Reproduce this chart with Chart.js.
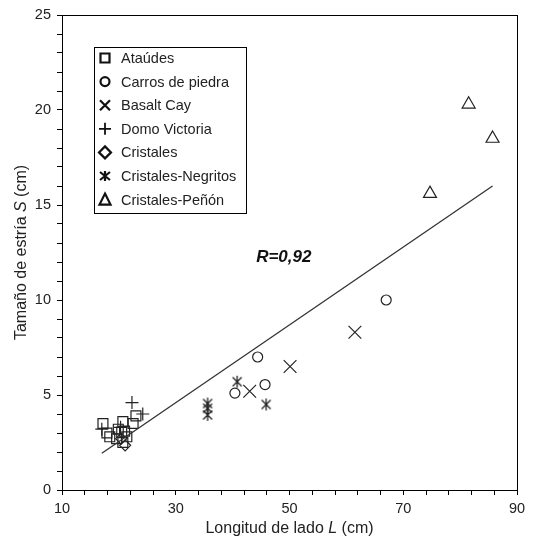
<!DOCTYPE html>
<html>
<head>
<meta charset="utf-8">
<script src="https://cdn.jsdelivr.net/npm/chart.js@4.4.1/dist/chart.umd.min.js"></script>
<style>
  html, body { margin: 0; padding: 0; background: #fff; }
  #wrap { width: 533px; height: 540px; }
</style>
</head>
<body>
<div id="wrap"><canvas id="c" width="533" height="540"></canvas></div>
<script>
// ---- Data ----
const seriesNames = ['Ataúdes', 'Carros de piedra', 'Basalt Cay', 'Domo Victoria', 'Cristales', 'Cristales-Negritos', 'Cristales-Peñón'];

const atades = [
  {x: 17.2, y: 3.5}, {x: 17.9, y: 3.0}, {x: 18.4, y: 2.8}, {x: 19.6, y: 2.7},
  {x: 20.5, y: 3.05}, {x: 20.7, y: 3.6}, {x: 20.7, y: 2.5}, {x: 21.4, y: 2.8},
  {x: 22.5, y: 3.5}, {x: 23.0, y: 3.9}, {x: 19.9, y: 3.2}, {x: 21.0, y: 3.1}
];
const carros = [ {x: 40.4, y: 5.1}, {x: 44.4, y: 7.0}, {x: 45.7, y: 5.55}, {x: 67.0, y: 10.0} ];
const basalt = [ {x: 43.0, y: 5.2}, {x: 50.1, y: 6.5}, {x: 61.5, y: 8.3} ];
const domo = [ {x: 22.3, y: 4.6}, {x: 24.2, y: 4.0}, {x: 17.0, y: 3.2}, {x: 20.3, y: 3.3} ];
const cristales = [ {x: 21.1, y: 2.35}, {x: 20.4, y: 2.7} ];
const negritos = [ {x: 35.6, y: 4.55}, {x: 35.6, y: 4.3}, {x: 35.6, y: 3.95}, {x: 40.8, y: 5.7}, {x: 45.9, y: 4.5} ];
const penon = [ {x: 81.5, y: 20.3}, {x: 85.7, y: 18.5}, {x: 74.7, y: 15.6} ];

const regression = [ {x: 17.0, y: 1.93}, {x: 85.7, y: 16.0} ];
const rLabel = 'R=0,92';
const rPos = {x: 49.0, y: 12.25};

const xTicks = {min: 10, max: 90, step: 4, labelEvery: 20};
const yTicks = {min: 0, max: 25, step: 1, labelEvery: 5};

// ---- Custom asterisk marker ----
function makeAsterisk(size, lw) {
  const c = document.createElement('canvas');
  c.width = size; c.height = size;
  const g = c.getContext('2d');
  g.strokeStyle = '#222'; g.lineWidth = lw; g.lineCap = 'butt';
  const m = size / 2, r = size / 2 - 1;
  const d = r * 0.75;
  g.beginPath();
  g.moveTo(m - d, m - d); g.lineTo(m + d, m + d);
  g.moveTo(m + d, m - d); g.lineTo(m - d, m + d);
  g.moveTo(m, m - r); g.lineTo(m, m + r);
  g.stroke();
  return c;
}
const asteriskImg = makeAsterisk(14, 1.3);

const ink = '#222';
function ds(label, data, style, radius) {
  return {
    type: 'scatter', label, data,
    pointStyle: style, pointRadius: radius, pointHoverRadius: radius,
    pointBorderColor: ink, pointBackgroundColor: 'rgba(0,0,0,0)',
    pointBorderWidth: 1.2, showLine: false
  };
}

const datasets = [
  {
    type: 'line', label: 'fit', data: regression,
    borderColor: '#333', borderWidth: 1.3, pointRadius: 0, fill: false, tension: 0
  },
  ds(seriesNames[0], atades, 'rect', 7),
  ds(seriesNames[1], carros, 'circle', 5),
  ds(seriesNames[2], basalt, 'crossRot', 9),
  ds(seriesNames[3], domo, 'cross', 6.5),
  ds(seriesNames[4], cristales, 'rectRot', 5.5),
  ds(seriesNames[5], negritos, asteriskImg, 7),
  ds(seriesNames[6], penon, 'triangle', 7.5)
];
const legendStyles = ['rect', 'circle', 'crossRot', 'cross', 'rectRot', 'asterisk', 'triangle'];

const FONT = '"Liberation Sans", Arial, sans-serif';

function drawSymbol(ctx, style, x, y) {
  ctx.save();
  ctx.strokeStyle = '#111';
  ctx.lineWidth = 2.2;
  ctx.beginPath();
  const s = 5;
  switch (style) {
    case 'rect': ctx.rect(x - s + 0.5, y - s + 0.5, 2 * s - 1, 2 * s - 1); break;
    case 'circle': ctx.arc(x, y, s - 0.5, 0, Math.PI * 2); break;
    case 'crossRot':
      ctx.moveTo(x - s, y - s); ctx.lineTo(x + s, y + s);
      ctx.moveTo(x + s, y - s); ctx.lineTo(x - s, y + s); break;
    case 'cross':
      ctx.lineWidth = 1.8;
      ctx.moveTo(x - s - 1, y); ctx.lineTo(x + s + 1, y);
      ctx.moveTo(x, y - s - 1); ctx.lineTo(x, y + s + 1); break;
    case 'rectRot':
      ctx.moveTo(x, y - s - 1); ctx.lineTo(x + s + 1, y); ctx.lineTo(x, y + s + 1); ctx.lineTo(x - s - 1, y); ctx.closePath(); break;
    case 'asterisk':
      ctx.moveTo(x - s, y - s + 1); ctx.lineTo(x + s, y + s - 1);
      ctx.moveTo(x + s, y - s + 1); ctx.lineTo(x - s, y + s - 1);
      ctx.moveTo(x, y - s); ctx.lineTo(x, y + s); break;
    case 'triangle':
      ctx.moveTo(x, y - s - 1); ctx.lineTo(x + s + 0.5, y + s); ctx.lineTo(x - s - 0.5, y + s); ctx.closePath(); break;
  }
  ctx.stroke();
  ctx.restore();
}

function drawMixed(ctx, parts, cx, cy) {
  let total = 0;
  const widths = parts.map(p => {
    ctx.font = (p.italic ? 'italic ' : '') + '16px ' + FONT;
    const w = ctx.measureText(p.t).width; total += w; return w;
  });
  let x = cx - total / 2;
  parts.forEach((p, i) => {
    ctx.font = (p.italic ? 'italic ' : '') + '16px ' + FONT;
    ctx.fillText(p.t, x, cy);
    x += widths[i];
  });
}

const overlay = {
  id: 'overlay',
  afterDraw(chart) {
    const ctx = chart.ctx;
    const a = chart.chartArea;
    ctx.save();
    // frame
    ctx.strokeStyle = '#000'; ctx.lineWidth = 1;
    ctx.strokeRect(Math.round(a.left) + 0.5, Math.round(a.top) + 0.5, Math.round(a.right - a.left), Math.round(a.bottom - a.top));

    // legend
    const lx = 94, ly = 47, lw = 152, lh = 166;
    ctx.fillStyle = '#fff';
    ctx.fillRect(lx, ly, lw, lh);
    ctx.strokeStyle = '#000'; ctx.lineWidth = 1;
    ctx.strokeRect(lx + 0.5, ly + 0.5, lw, lh);
    ctx.fillStyle = ink;
    ctx.textBaseline = 'middle';
    ctx.textAlign = 'left';
    ctx.font = '14.5px ' + FONT;
    seriesNames.forEach((name, i) => {
      const y = 58 + i * 23.6;
      drawSymbol(ctx, legendStyles[i], 105, y);
      ctx.fillStyle = ink;
      ctx.fillText(name, 121, y + 1);
    });

    // R label
    const xs = chart.scales.x, ys = chart.scales.y;
    ctx.font = 'italic bold 17px ' + FONT;
    ctx.textAlign = 'center';
    ctx.fillStyle = '#111';
    ctx.fillText(rLabel, xs.getPixelForValue(rPos.x), ys.getPixelForValue(rPos.y));

    // axis titles
    ctx.fillStyle = ink;
    ctx.textAlign = 'left';
    drawMixed(ctx, [{t: 'Longitud de lado '}, {t: 'L', italic: true}, {t: ' (cm)'}], (a.left + a.right) / 2, 529);
    ctx.save();
    ctx.translate(22, (a.top + a.bottom) / 2);
    ctx.rotate(-Math.PI / 2);
    drawMixed(ctx, [{t: 'Tamaño de estría '}, {t: 'S', italic: true}, {t: ' (cm)'}], 0, 0);
    ctx.restore();
    ctx.restore();
  }
};

new Chart(document.getElementById('c'), {
  data: { datasets },
  options: {
    responsive: false,
    animation: false,
    devicePixelRatio: 1,
    layout: { padding: { left: 0, top: 15, right: 16, bottom: 0 } },
    plugins: { legend: { display: false }, tooltip: { enabled: false } },
    scales: {
      x: {
        type: 'linear', min: xTicks.min, max: xTicks.max,
        afterFit(s) { s.height = 50; },
        ticks: {
          stepSize: xTicks.step, autoSkip: false, maxRotation: 0,
          color: ink, font: { family: FONT, size: 14.5 }, padding: 5,
          callback: v => ((v - xTicks.min) % xTicks.labelEvery === 0 ? String(v) : '')
        },
        grid: { drawOnChartArea: false, drawTicks: true, tickLength: 5, color: '#000', lineWidth: 1 },
        border: { display: true, color: '#000', width: 1 }
      },
      y: {
        type: 'linear', min: yTicks.min, max: yTicks.max,
        afterFit(s) { s.width = 62; },
        ticks: {
          stepSize: yTicks.step, autoSkip: false,
          color: ink, font: { family: FONT, size: 14.5 }, padding: 6,
          callback: v => (v % yTicks.labelEvery === 0 ? String(v) : '')
        },
        grid: { drawOnChartArea: false, drawTicks: true, tickLength: 5, color: '#000', lineWidth: 1 },
        border: { display: true, color: '#000', width: 1 }
      }
    }
  },
  plugins: [overlay]
});
</script>
</body>
</html>
